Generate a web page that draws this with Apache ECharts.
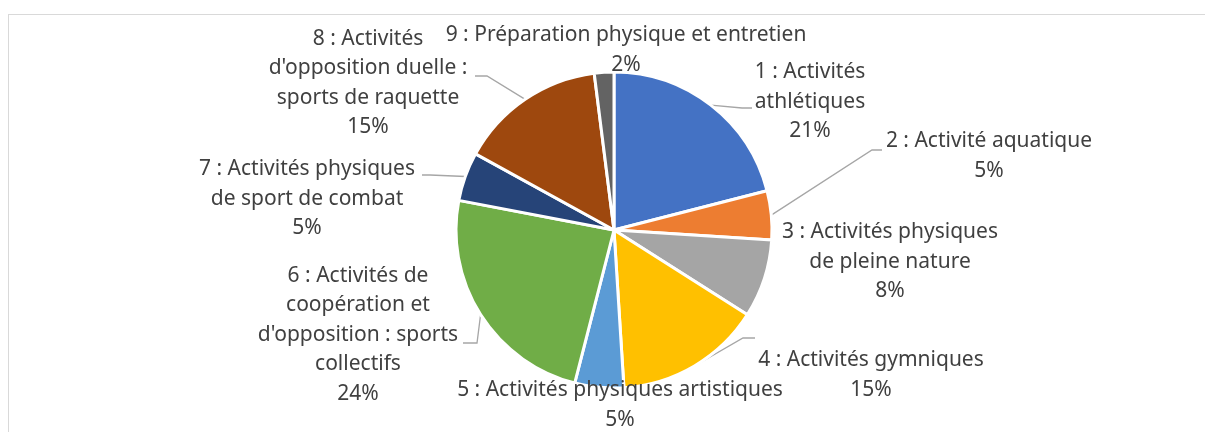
<!DOCTYPE html>
<html>
<head>
<meta charset="utf-8">
<script src="https://cdn.jsdelivr.net/npm/echarts@6/dist/echarts.min.js"></script>
<style>
    html, body { margin: 0; padding: 0; background: #fff; }
    #wrap { position: relative; width: 1205px; height: 432px; overflow: hidden; }
    #frame { position: absolute; left: 8px; top: 14px; width: 1300px; height: 500px; border: 1px solid #d9d9d9; }
    #chart { position: absolute; left: 0; top: 0; width: 1205px; height: 432px; }
</style>
</head>
<body>
<div id="wrap">
    <div id="frame"></div>
    <div id="chart"></div>
</div>
<script>
// categories (line breaks as wrapped in the original labels)
var categories = [
    '1 : Activités\nathlétiques',
    '2 : Activité aquatique',
    '3 : Activités physiques\nde pleine nature',
    '4 : Activités gymniques',
    '5 : Activités physiques artistiques',
    '6 : Activités de\ncoopération et\nd\'opposition : sports\ncollectifs',
    '7 : Activités physiques\nde sport de combat',
    '8 : Activités\nd\'opposition duelle :\nsports de raquette',
    '9 : Préparation physique et entretien'
];
// share of each activity (%)
var values = [21, 5, 8, 15, 5, 24, 5, 15, 2];

var colors = ['#4472C4', '#ED7D31', '#A5A5A5', '#FFC000', '#5B9BD5', '#70AD47', '#264478', '#9E480E', '#636363'];

// label block centres, and leader line bend/end (null = no leader line)
var labelPos = [
    [810, 102], [989, 156], [890, 262], [871, 375], [620, 405],
    [358, 335], [307, 199], [368, 83], [626, 50]
];
var leader = [
    [[742, 108], [752, 108]],
    [[872, 150], [882, 150]],
    null,
    [[743, 338], [755, 338]],
    null,
    [[477, 343], [463, 343]],
    [[430, 175], [422, 175]],
    [[487, 76], [475, 76]],
    null
];

(function () {
    var myChart = echarts.init(document.getElementById('chart'));

    var data = categories.map(function (name, i) {
        return {
            name: name,
            value: values[i],
            labelLine: { show: leader[i] != null }
        };
    });

    var option = {
        animation: false,
        color: colors,
        series: [
            {
                type: 'pie',
                center: [614, 230],
                radius: 158,
                startAngle: 90,
                clockwise: true,
                percentPrecision: 0,
                avoidLabelOverlap: false,
                data: data,
                itemStyle: {
                    borderColor: '#fff',
                    borderWidth: 3
                },
                label: {
                    show: true,
                    formatter: '{b}\n{d}%',
                    color: '#404040',
                    fontFamily: 'Noto Sans',
                    fontSize: 21,
                    lineHeight: 29.5,
                    overflow: 'none'
                },
                labelLine: {
                    show: true,
                    length: 20,
                    length2: 10,
                    lineStyle: { color: '#A6A6A6', width: 1.3 }
                },
                labelLayout: function (params) {
                    var i = params.dataIndex;
                    var res = {
                        x: labelPos[i][0],
                        y: labelPos[i][1],
                        align: 'center',
                        verticalAlign: 'middle',
                        hideOverlap: false
                    };
                    if (leader[i] && params.labelLinePoints) {
                        // start on the slice edge as given by the library
                        res.labelLinePoints = [params.labelLinePoints[0], leader[i][0], leader[i][1]];
                    }
                    return res;
                },
                emphasis: { disabled: true }
            }
        ]
    };

    myChart.setOption(option);
})();
</script>
</body>
</html>
